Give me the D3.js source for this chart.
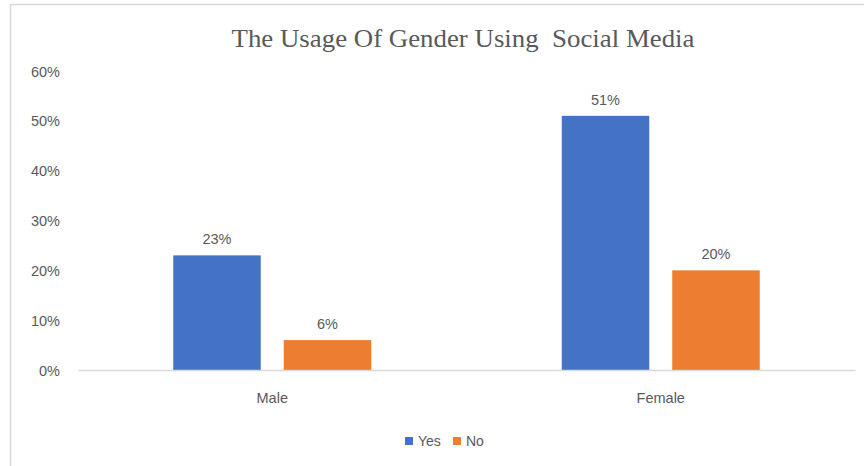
<!DOCTYPE html>
<html>
<head>
<meta charset="utf-8">
<script src="https://cdn.jsdelivr.net/npm/d3@7/dist/d3.min.js"></script>
<style>
  html, body { margin: 0; padding: 0; background: #fff; }
  svg { display: block; }
</style>
</head>
<body>
<svg id="chart" width="864" height="466"></svg>
<script>
// Chart data
const categories = ["Male", "Female"];
const seriesNames = ["Yes", "No"];
const yesValues = [0.23, 0.51];
const noValues = [0.06, 0.20];
const yTicks = [0, 0.1, 0.2, 0.3, 0.4, 0.5, 0.6];
const titleText = "The Usage Of Gender Using  Social Media";

const colors = { Yes: "#4472C4", No: "#ED7D31" };
const textColor = "#595959";

const svg = d3.select("#chart");

// Outer chart frame
svg.append("rect")
  .attr("x", 10.5).attr("y", 4.5)
  .attr("width", 900).attr("height", 520)
  .attr("fill", "none")
  .attr("stroke", "#d9d9d9")
  .attr("stroke-width", 1.6);

const plot = { left: 78, right: 855, top: 71, bottom: 370 };

const x0 = d3.scaleBand()
  .domain(categories)
  .range([plot.left, plot.right])
  .paddingInner(0).paddingOuter(0);

const groupWidth = 198;
const x1 = d3.scaleBand()
  .domain(seriesNames)
  .range([0, groupWidth])
  .paddingInner(0.208).paddingOuter(0);

const y = d3.scaleLinear()
  .domain([0, 0.6])
  .range([plot.bottom, plot.top]);

const rows = categories.map((c, i) => ({
  category: c,
  values: [
    { key: "Yes", value: yesValues[i] },
    { key: "No", value: noValues[i] }
  ]
}));

// Title
svg.append("text")
  .attr("x", 463).attr("y", 47)
  .attr("text-anchor", "middle")
  .attr("font-family", "'Liberation Serif', 'DejaVu Serif', serif")
  .attr("font-size", 26)
  .attr("fill", textColor)
  .attr("textLength", 463)
  .attr("lengthAdjust", "spacingAndGlyphs")
  .style("white-space", "pre")
  .text(titleText);

// Y axis (labels only)
const yAxis = d3.axisLeft(y)
  .tickValues(yTicks)
  .tickFormat(d3.format(".0%"))
  .tickSize(0)
  .tickPadding(0);

const yG = svg.append("g")
  .attr("transform", `translate(60,0)`)
  .call(yAxis);
yG.select(".domain").remove();
yG.selectAll("text")
  .attr("font-family", "'Liberation Sans', Arial, sans-serif")
  .attr("font-size", 14.5)
  .attr("fill", textColor)
  .attr("dy", "0.35em");

// Bars
const groups = svg.append("g").selectAll("g")
  .data(rows)
  .join("g")
  .attr("transform", d => `translate(${x0(d.category) + (x0.bandwidth() - groupWidth) / 2},0)`);

groups.selectAll("rect")
  .data(d => d.values)
  .join("rect")
  .attr("x", d => x1(d.key))
  .attr("y", d => y(d.value))
  .attr("width", x1.bandwidth())
  .attr("height", d => y(0) - y(d.value))
  .attr("fill", d => colors[d.key]);

// Data labels
groups.selectAll("text.val")
  .data(d => d.values)
  .join("text")
  .attr("class", "val")
  .attr("x", d => x1(d.key) + x1.bandwidth() / 2)
  .attr("y", d => y(d.value) - 11)
  .attr("text-anchor", "middle")
  .attr("font-family", "'Liberation Sans', Arial, sans-serif")
  .attr("font-size", 14.5)
  .attr("fill", textColor)
  .text(d => d3.format(".0%")(d.value));

// X axis baseline and category labels
const xAxis = d3.axisBottom(x0).tickSize(0).tickPadding(0);
const xG = svg.append("g")
  .attr("transform", `translate(0,${plot.bottom})`)
  .call(xAxis);
xG.select(".domain")
  .attr("stroke", "#d9d9d9")
  .attr("stroke-width", 1.3);
xG.selectAll("text")
  .attr("y", 33)
  .attr("dy", 0)
  .attr("font-family", "'Liberation Sans', Arial, sans-serif")
  .attr("font-size", 14.5)
  .attr("fill", textColor);

// Legend
const legendItems = [
  { key: "Yes", x: 405 },
  { key: "No", x: 453 }
];
const legend = svg.append("g").selectAll("g")
  .data(legendItems)
  .join("g")
  .attr("transform", d => `translate(${d.x},437)`);
legend.append("rect")
  .attr("width", 8).attr("height", 8)
  .attr("fill", d => colors[d.key]);
legend.append("text")
  .attr("x", 13).attr("y", 9)
  .attr("font-family", "'Liberation Sans', Arial, sans-serif")
  .attr("font-size", 14)
  .attr("fill", textColor)
  .text(d => d.key);
</script>
</body>
</html>
